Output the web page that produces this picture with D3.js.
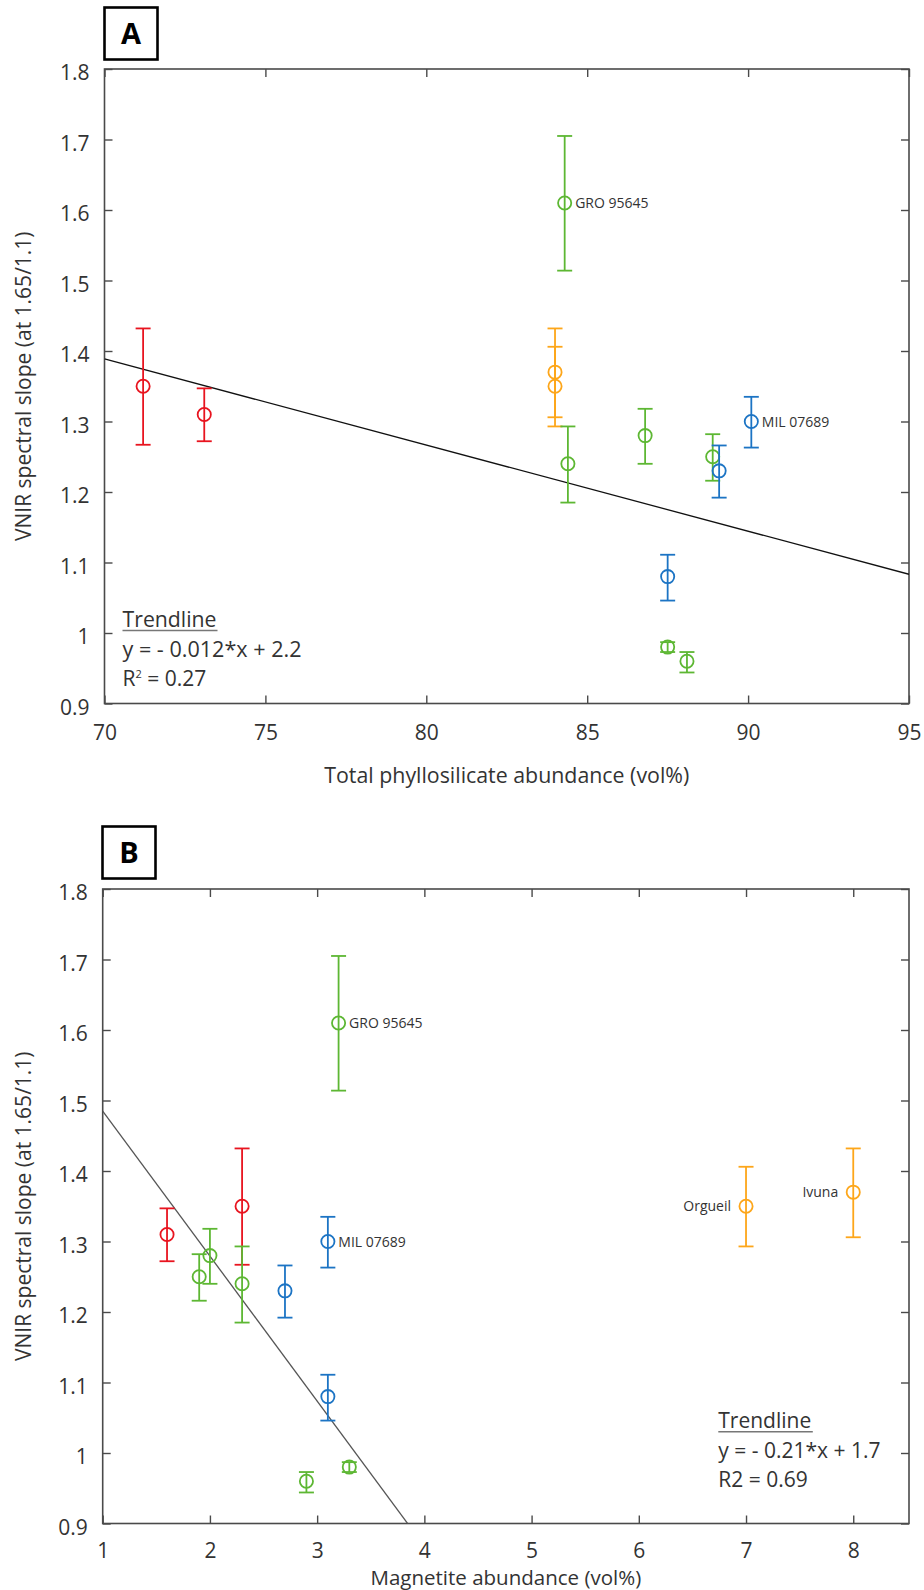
<!DOCTYPE html>
<html>
<head>
<meta charset="utf-8">
<script src="https://cdn.jsdelivr.net/npm/d3@7"></script>
<style>
  html, body { margin: 0; padding: 0; background: #fff; }
  svg { display: block; }
  text { font-family: "Open Sans", "Noto Sans", sans-serif; fill: #333; }
</style>
</head>
<body>
<script>
// ---------------- data ----------------
const sampleGroup = ["red","red","orange","orange","green","green","green","green","blue","blue","blue","green","green"];
const phyllosilicate = [71.2, 73.1, 84.0, 84.0, 84.3, 84.4, 86.8, 88.9, 89.1, 90.1, 87.5, 87.5, 88.1];
const magnetite      = [2.3, 1.6, 8.0, 7.0, 3.2, 2.3, 2.0, 1.9, 2.7, 3.1, 3.1, 3.3, 2.9];
const vnirSlope      = [1.35, 1.31, 1.37, 1.35, 1.61, 1.24, 1.28, 1.25, 1.23, 1.30, 1.08, 0.98, 0.96];
const errLow         = [1.267, 1.272, 1.306, 1.293, 1.514, 1.185, 1.240, 1.216, 1.192, 1.263, 1.046, 0.973, 0.944];
const errHigh        = [1.432, 1.347, 1.432, 1.406, 1.705, 1.293, 1.318, 1.282, 1.266, 1.335, 1.111, 0.987, 0.973];
const labelsA        = ["", "", "", "", "GRO 95645", "", "", "", "", "MIL 07689", "", "", ""];
const labelsB        = ["", "", "Ivuna", "Orgueil", "GRO 95645", "", "", "", "", "MIL 07689", "", "", ""];

const xTicksA = [70, 75, 80, 85, 90, 95];
const xTickLabelsA = ["70", "75", "80", "85", "90", "95"];
const xTicksB = [1, 2, 3, 4, 5, 6, 7, 8];
const xTickLabelsB = ["1", "2", "3", "4", "5", "6", "7", "8"];
const yTicks = [0.9, 1.0, 1.1, 1.2, 1.3, 1.4, 1.5, 1.6, 1.7, 1.8];
const yTickLabels = ["0.9", "1", "1.1", "1.2", "1.3", "1.4", "1.5", "1.6", "1.7", "1.8"];

// trendlines (slope, intercept) as drawn
const trendA = [-0.01222, 2.2442];
const trendB = [-0.2057, 1.6907];
const trendTextA = ["Trendline", "y = - 0.012*x + 2.2", "R", "2", " = 0.27"];
const trendTextB = ["Trendline", "y = - 0.21*x + 1.7", "R2 = 0.69"];

const groupColor = { red: "#e8141f", orange: "#fda61a", green: "#5db733", blue: "#1c74c4" };

const W = 924, H = 1590;
const svg = d3.select("body").append("svg").attr("width", W).attr("height", H);

function panel(cfg) {
  const g = svg.append("g");
  const x = d3.scaleLinear().domain(cfg.xDomain).range([cfg.left, cfg.right]);
  const y = d3.scaleLinear().domain([0.9, 1.8]).range([cfg.bottom, cfg.top]);

  const clipId = "clip" + cfg.name;
  svg.append("clipPath").attr("id", clipId).append("rect")
    .attr("x", cfg.left).attr("y", cfg.top)
    .attr("width", cfg.right - cfg.left).attr("height", cfg.bottom - cfg.top);

  const axisColor = "#4a4a4a";
  const styleAxis = sel => {
    sel.select(".domain").remove();
    sel.selectAll(".tick line").attr("stroke", axisColor).attr("stroke-width", 1.4);
    sel.selectAll(".tick text").attr("fill", "#333").style("font-size", "21px")
       .attr("font-family", null);
  };
  const yLab = d => yTickLabels[yTicks.indexOf(d)];
  const xLab = d => cfg.xTickLabels[cfg.xTicks.indexOf(d)];

  g.append("g").attr("transform", `translate(${cfg.left},0)`)
    .call(d3.axisLeft(y).tickValues(yTicks).tickFormat(yLab).tickSizeInner(-8).tickSizeOuter(0).tickPadding(15))
    .call(styleAxis)
    .selectAll(".tick text").attr("dy", "0.52em");
  g.append("g").attr("transform", `translate(${cfg.right},0)`)
    .call(d3.axisRight(y).tickValues(yTicks).tickFormat("").tickSizeInner(-8).tickSizeOuter(0))
    .call(styleAxis);
  g.append("g").attr("transform", `translate(0,${cfg.bottom})`)
    .call(d3.axisBottom(x).tickValues(cfg.xTicks).tickFormat(xLab).tickSizeInner(-8).tickSizeOuter(0).tickPadding(cfg.xPad))
    .call(styleAxis);
  g.append("g").attr("transform", `translate(0,${cfg.top})`)
    .call(d3.axisTop(x).tickValues(cfg.xTicks).tickFormat("").tickSizeInner(-8).tickSizeOuter(0))
    .call(styleAxis);

  g.append("rect").attr("x", cfg.left).attr("y", cfg.top)
    .attr("width", cfg.right - cfg.left).attr("height", cfg.bottom - cfg.top)
    .attr("fill", "none").attr("stroke", axisColor).attr("stroke-width", 1.6);

  g.append("text")
    .attr("transform", `translate(31,${(cfg.top + cfg.bottom) / 2}) rotate(-90)`)
    .attr("text-anchor", "middle").style("font-size", "21px")
    .text("VNIR spectral slope (at 1.65/1.1)");
  const xt = g.append("text")
    .attr("x", (cfg.left + cfg.right) / 2).attr("y", cfg.titleY)
    .attr("text-anchor", "middle").style("font-size", cfg.titleSize || "21px")
    .text(cfg.xTitle);
  if (cfg.titleLen) xt.attr("textLength", cfg.titleLen).attr("lengthAdjust", "spacingAndGlyphs");

  g.append("rect").attr("x", cfg.boxX).attr("y", cfg.boxY).attr("width", 53).attr("height", 52)
    .attr("fill", "#fff").attr("stroke", "#000").attr("stroke-width", 2.6);
  g.append("text").attr("x", cfg.boxX + 26.5).attr("y", cfg.boxY + 36)
    .attr("text-anchor", "middle").style("font-size", "29px").style("font-weight", "700")
    .style("fill", "#000").text(cfg.name);

  const tr = cfg.trend;
  const xEnd = cfg.trendEndX;
  g.append("line").attr("clip-path", `url(#${clipId})`)
    .attr("x1", x(cfg.xDomain[0])).attr("y1", y(tr[0] * cfg.xDomain[0] + tr[1]))
    .attr("x2", x(xEnd)).attr("y2", y(tr[0] * xEnd + tr[1]))
    .attr("stroke", cfg.trendColor).attr("stroke-width", 1.3);

  const xs = cfg.xValues;
  const idx = d3.range(xs.length);
  const pts = g.append("g");
  idx.forEach(i => {
    const c = groupColor[sampleGroup[i]];
    const cx = x(xs[i]);
    const p = pts.append("g").attr("stroke", c).attr("stroke-width", 1.8).attr("fill", "none");
    p.append("line").attr("x1", cx).attr("x2", cx).attr("y1", y(errLow[i])).attr("y2", y(errHigh[i]));
    p.append("line").attr("x1", cx - 7.5).attr("x2", cx + 7.5).attr("y1", y(errLow[i])).attr("y2", y(errLow[i]));
    p.append("line").attr("x1", cx - 7.5).attr("x2", cx + 7.5).attr("y1", y(errHigh[i])).attr("y2", y(errHigh[i]));
    p.append("circle").attr("cx", cx).attr("cy", y(vnirSlope[i])).attr("r", 6.6);
  });

  idx.forEach(i => {
    const lab = cfg.labels[i];
    if (!lab) return;
    const leftSide = sampleGroup[i] === "orange";
    g.append("text")
      .attr("x", x(xs[i]) + (leftSide ? -15 : 10.5))
      .attr("y", y(vnirSlope[i]) + 5)
      .attr("text-anchor", leftSide ? "end" : "start")
      .style("font-size", "14px")
      .text(lab);
  });

  const t = cfg.trendText;
  const tx = cfg.annX, ty = cfg.annY;
  const t1 = g.append("text").attr("x", tx).attr("y", ty).style("font-size", "21px").text(t[0]);
  if (cfg.annLens) t1.attr("textLength", cfg.annLens[0]).attr("lengthAdjust", "spacingAndGlyphs");
  g.append("line").attr("x1", tx).attr("x2", tx + cfg.underlineLen)
    .attr("y1", ty + 3.5).attr("y2", ty + 3.5).attr("stroke", "#777").attr("stroke-width", 1.5);
  const t2 = g.append("text").attr("x", tx).attr("y", ty + cfg.annStep).style("font-size", "21px").text(t[1]);
  if (cfg.annLens) t2.attr("textLength", cfg.annLens[1]).attr("lengthAdjust", "spacingAndGlyphs");
  if (t.length === 5) {
    const t3 = g.append("text").attr("x", tx).attr("y", ty + 2 * cfg.annStep).style("font-size", "21px");
    t3.append("tspan").text(t[2]);
    t3.append("tspan").attr("dy", -8).style("font-size", "11px").text(t[3]);
    t3.append("tspan").attr("dy", 8).text(t[4]);
  } else {
    g.append("text").attr("x", tx).attr("y", ty + 2 * cfg.annStep).style("font-size", "21px").text(t[2]);
  }
}

panel({
  name: "A", xDomain: [70, 95], left: 104.5, right: 909, top: 69, bottom: 703.5,
  xTicks: xTicksA, xTickLabels: xTickLabelsA, xPad: 22,
  xValues: phyllosilicate, labels: labelsA,
  xTitle: "Total phyllosilicate abundance (vol%)", titleY: 783, titleLen: 365,
  boxX: 104.5, boxY: 7.5,
  trend: trendA, trendEndX: 95, trendColor: "#111",
  trendText: trendTextA, annX: 122.5, annY: 627, annStep: 29.7,
  annLens: [94, 179], underlineLen: 95
});

panel({
  name: "B", xDomain: [1, 8.52], left: 102.7, right: 909, top: 889, bottom: 1523.5,
  xTicks: xTicksB, xTickLabels: xTickLabelsB, xPad: 19.5,
  xValues: magnetite, labels: labelsB,
  xTitle: "Magnetite abundance (vol%)", titleY: 1585, titleSize: "20.5px",
  boxX: 102.5, boxY: 826.5,
  trend: trendB, trendEndX: 4.2, trendColor: "#555",
  trendText: trendTextB, annX: 718.3, annY: 1428.3, annStep: 29.2,
  underlineLen: 94.5
});
</script>
</body>
</html>
